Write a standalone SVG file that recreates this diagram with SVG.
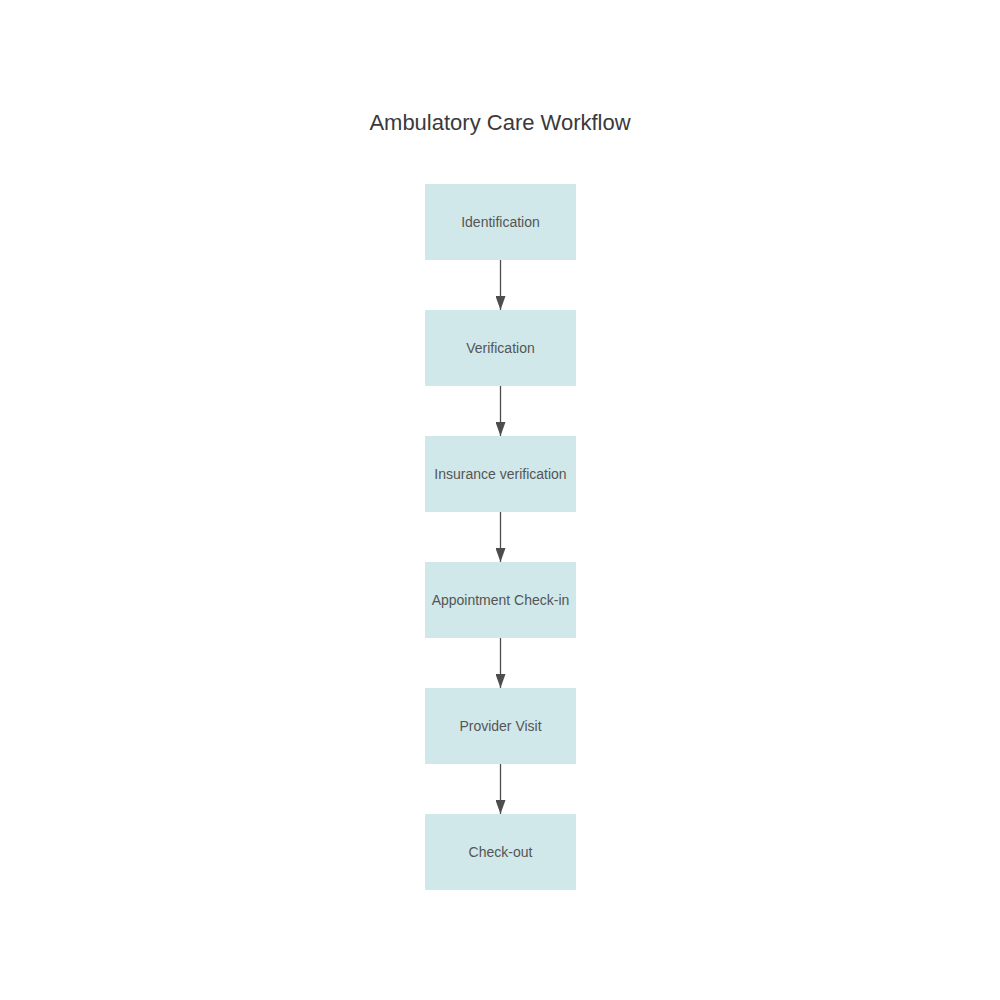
<svg xmlns="http://www.w3.org/2000/svg" width="1000" height="1000" viewBox="0 0 1000 1000">
<style>
.node rect{fill:#d0e8ea;stroke:none}
.node text{font-family:"Liberation Sans",Arial,sans-serif;font-size:14px;fill:#555;text-anchor:middle}
.title{font-family:"Liberation Sans",Arial,sans-serif;font-size:22px;fill:#3a3a3a;text-anchor:middle}
.edge{stroke:#4d4d4d;stroke-width:1.3;fill:none}
</style>
<defs>
<marker id="arr" markerWidth="14" markerHeight="10" refX="14" refY="5" orient="auto" markerUnits="userSpaceOnUse" viewBox="0 0 14 10">
<path d="M0,0 L14,5 L0,10 Z" fill="#4d4d4d"/>
</marker>
</defs>
<rect width="1000" height="1000" fill="#fff"/>
<text class="title" x="500" y="130">Ambulatory Care Workflow</text>
<g id="connectors">
<line class="edge" x1="500.5" y1="260" x2="500.5" y2="310" marker-end="url(#arr)"/>
<line class="edge" x1="500.5" y1="386" x2="500.5" y2="436" marker-end="url(#arr)"/>
<line class="edge" x1="500.5" y1="512" x2="500.5" y2="562" marker-end="url(#arr)"/>
<line class="edge" x1="500.5" y1="638" x2="500.5" y2="688" marker-end="url(#arr)"/>
<line class="edge" x1="500.5" y1="764" x2="500.5" y2="814" marker-end="url(#arr)"/>
</g>
<g id="n1" class="node"><rect x="425" y="184" width="151" height="76"/><text x="500.5" y="227">Identification</text></g>
<g id="n2" class="node"><rect x="425" y="310" width="151" height="76"/><text x="500.5" y="353">Verification</text></g>
<g id="n3" class="node"><rect x="425" y="436" width="151" height="76"/><text x="500.5" y="479">Insurance verification</text></g>
<g id="n4" class="node"><rect x="425" y="562" width="151" height="76"/><text x="500.5" y="605">Appointment Check-in</text></g>
<g id="n5" class="node"><rect x="425" y="688" width="151" height="76"/><text x="500.5" y="731">Provider Visit</text></g>
<g id="n6" class="node"><rect x="425" y="814" width="151" height="76"/><text x="500.5" y="857">Check-out</text></g>
</svg>
